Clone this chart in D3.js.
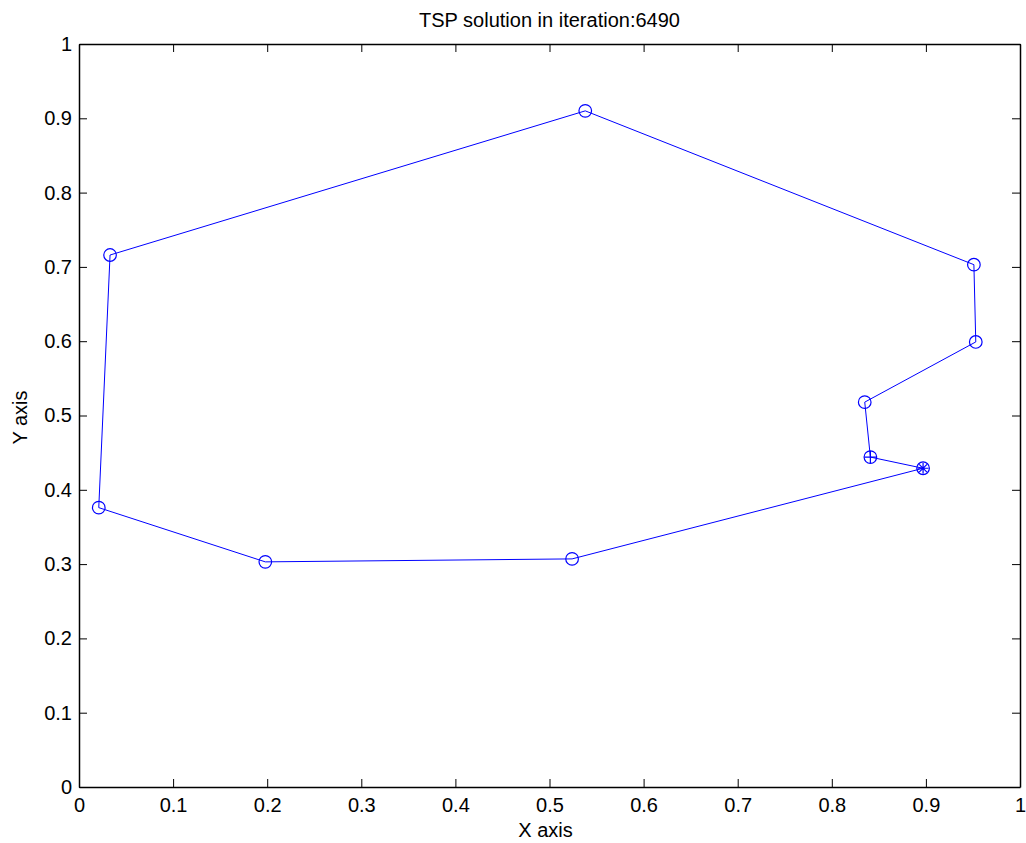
<!DOCTYPE html>
<html>
<head>
<meta charset="utf-8">
<script src="https://cdn.jsdelivr.net/npm/d3@7"></script>
<style>
  body { margin: 0; background: #fff; }
  text { font-family: "Liberation Sans", Arial, sans-serif; fill: #000; }
</style>
</head>
<body>
<div id="chart_div"></div>
<script>
// tour order, closed back to the start
var xs = [0.897, 0.524, 0.198, 0.021, 0.033, 0.538, 0.951, 0.953, 0.835, 0.841, 0.897];
var ys = [0.429, 0.307, 0.303, 0.376, 0.716, 0.910, 0.703, 0.599, 0.518, 0.444, 0.429];
var ticks = [0, 0.1, 0.2, 0.3, 0.4, 0.5, 0.6, 0.7, 0.8, 0.9, 1];
var title = "TSP solution in iteration:6490";

var margin = {top: 44, right: 6, bottom: 56, left: 79},
    width = 1026 - margin.left - margin.right,
    height = 843 - margin.top - margin.bottom;

var x = d3.scaleLinear().domain([0, 1]).range([0, width]);
var y = d3.scaleLinear().domain([0, 1]).range([height, 0]);

var svg = d3.select("#chart_div").append("svg")
    .attr("width", 1026)
    .attr("height", 843)
  .append("g")
    .attr("transform", "translate(" + margin.left + "," + margin.top + ")");

var fmt = function(d) { return d === 0 || d === 1 ? d : d3.format(".1f")(d); };

// axes with inward ticks (box on all four sides)
svg.append("g")
    .attr("transform", "translate(0," + height + ")")
    .call(d3.axisBottom(x).tickValues(ticks).tickFormat(fmt).tickSizeInner(-8).tickSizeOuter(0).tickPadding(11));
svg.append("g")
    .call(d3.axisLeft(y).tickValues(ticks).tickFormat(fmt).tickSizeInner(-8).tickSizeOuter(0).tickPadding(7));
svg.append("g")
    .call(d3.axisTop(x).tickValues(ticks).tickFormat("").tickSizeInner(-8).tickSizeOuter(0));
svg.append("g")
    .attr("transform", "translate(" + width + ",0)")
    .call(d3.axisRight(y).tickValues(ticks).tickFormat("").tickSizeInner(-8).tickSizeOuter(0));

svg.selectAll(".domain").attr("stroke", "#000").attr("stroke-width", 1.5);
svg.selectAll(".tick line").attr("stroke", "#000");
svg.selectAll(".tick text").style("font-size", "20px").style("font-family", "Liberation Sans, Arial, sans-serif");

var pts = xs.map(function(d, i) { return [d, ys[i]]; });

svg.append("path")
    .datum(pts)
    .attr("fill", "none")
    .attr("stroke", "#0000ff")
    .attr("stroke-width", 1)
    .attr("d", d3.line().x(function(d) { return x(d[0]); }).y(function(d) { return y(d[1]); }));

svg.selectAll(".pt")
    .data(pts.slice(0, pts.length - 1))
    .enter().append("circle")
    .attr("cx", function(d) { return x(d[0]); })
    .attr("cy", function(d) { return y(d[1]); })
    .attr("r", 6.3)
    .attr("fill", "none")
    .attr("stroke", "#0000ff")
    .attr("stroke-width", 1.2);

// plus at the last city
var p = pts[pts.length - 2];
var px = x(p[0]), py = y(p[1]);
svg.append("path")
    .attr("d", "M" + (px - 6) + "," + py + "H" + (px + 6) + "M" + px + "," + (py - 6) + "V" + (py + 6))
    .attr("stroke", "#0000ff").attr("stroke-width", 1.2);

// asterisk at the start city
var s = pts[0], sx = x(s[0]), sy = y(s[1]);
var star = "";
[0, 45, 90, 135].forEach(function(a) {
  var r = a * Math.PI / 180, dx = 5.5 * Math.cos(r), dy = 5.5 * Math.sin(r);
  star += "M" + (sx - dx) + "," + (sy - dy) + "L" + (sx + dx) + "," + (sy + dy);
});
svg.append("path").attr("d", star).attr("stroke", "#0000ff").attr("stroke-width", 1.2);

// labels
svg.append("text")
    .attr("x", width / 2).attr("y", -17)
    .attr("text-anchor", "middle")
    .style("font-size", "20px")
    .text(title);
svg.append("text")
    .attr("x", width / 2 - 4).attr("y", height + 50)
    .attr("text-anchor", "middle")
    .style("font-size", "20px")
    .text("X axis");
svg.append("text")
    .attr("transform", "translate(-52," + (height / 2 + 2) + ") rotate(-90)")
    .attr("text-anchor", "middle")
    .style("font-size", "20px")
    .text("Y axis");
</script>
</body>
</html>
